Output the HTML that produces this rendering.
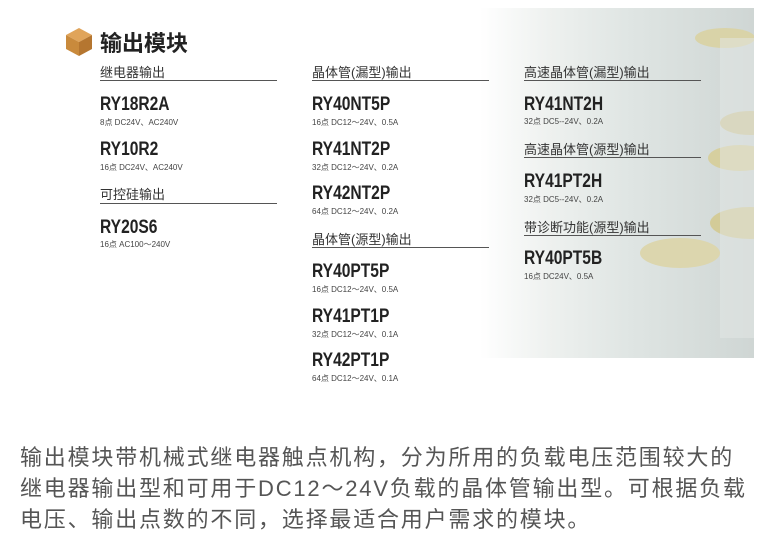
<!DOCTYPE html>
<html><head><meta charset="utf-8"><style>
body{margin:0;width:774px;height:538px;background:#fff;position:relative;overflow:hidden;font-family:"Liberation Sans","Noto Sans CJK SC",sans-serif;}
.a{position:absolute;white-space:nowrap;}
.h{font-size:13px;color:#333;}
.l{position:absolute;height:1px;background:#555;}
.m{font-size:19px;font-weight:bold;color:#222;transform:scaleX(0.82);transform-origin:left;}
.s{font-size:8px;color:#444;}
.p{font-size:22px;color:#555;left:20px;letter-spacing:1.8px;}
</style></head><body>
<div class="a" style="left:480px;top:8px;width:274px;height:350px;background:linear-gradient(90deg,#fff 0%,#eef1ef 25%,#dfe5e3 55%,#cfd6d4 100%);"></div>
<svg class="a" style="left:480px;top:8px" width="274" height="350">
<ellipse cx="245" cy="30" rx="30" ry="10" fill="#d9d3a8"/>
<ellipse cx="270" cy="115" rx="30" ry="12" fill="#cfc79a"/>
<ellipse cx="260" cy="150" rx="32" ry="13" fill="#d6cf9f"/>
<ellipse cx="270" cy="215" rx="40" ry="16" fill="#d3cb98"/>
<ellipse cx="200" cy="245" rx="40" ry="15" fill="#dcd6ae"/>
<rect x="240" y="30" width="34" height="300" fill="#e4e8e6" opacity=".5"/>
</svg>
<svg class="a" style="left:64px;top:26px" width="30" height="32"><polygon points="15,2 28,9 15,16 2,9" fill="#e0a45a"/><polygon points="2,9 15,16 15,30 2,23" fill="#c98a3c"/><polygon points="28,9 15,16 15,30 28,23" fill="#b57630"/></svg>
<div class="a" style="left:100px;top:26px;font-size:22px;font-weight:bold;color:#222;">输出模块</div>

<div class="a h" style="left:100px;top:62px">继电器输出</div><div class="l" style="left:100px;top:80px;width:177px"></div>
<div class="a m" style="left:100px;top:94px">RY18R2A</div><div class="a s" style="left:100px;top:117px">8点 DC24V、AC240V</div>
<div class="a m" style="left:100px;top:139px">RY10R2</div><div class="a s" style="left:100px;top:162px">16点 DC24V、AC240V</div>
<div class="a h" style="left:100px;top:184px">可控硅输出</div><div class="l" style="left:100px;top:203px;width:177px"></div>
<div class="a m" style="left:100px;top:217px">RY20S6</div><div class="a s" style="left:100px;top:239px">16点 AC100～240V</div>

<div class="a h" style="left:312px;top:62px">晶体管(漏型)输出</div><div class="l" style="left:312px;top:80px;width:177px"></div>
<div class="a m" style="left:312px;top:94px">RY40NT5P</div><div class="a s" style="left:312px;top:117px">16点 DC12～24V、0.5A</div>
<div class="a m" style="left:312px;top:139px">RY41NT2P</div><div class="a s" style="left:312px;top:162px">32点 DC12～24V、0.2A</div>
<div class="a m" style="left:312px;top:183px">RY42NT2P</div><div class="a s" style="left:312px;top:206px">64点 DC12～24V、0.2A</div>
<div class="a h" style="left:312px;top:229px">晶体管(源型)输出</div><div class="l" style="left:312px;top:247px;width:177px"></div>
<div class="a m" style="left:312px;top:261px">RY40PT5P</div><div class="a s" style="left:312px;top:284px">16点 DC12～24V、0.5A</div>
<div class="a m" style="left:312px;top:306px">RY41PT1P</div><div class="a s" style="left:312px;top:329px">32点 DC12～24V、0.1A</div>
<div class="a m" style="left:312px;top:350px">RY42PT1P</div><div class="a s" style="left:312px;top:373px">64点 DC12～24V、0.1A</div>

<div class="a h" style="left:524px;top:62px">高速晶体管(漏型)输出</div><div class="l" style="left:524px;top:80px;width:177px"></div>
<div class="a m" style="left:524px;top:94px">RY41NT2H</div><div class="a s" style="left:524px;top:116px">32点 DC5--24V、0.2A</div>
<div class="a h" style="left:524px;top:139px">高速晶体管(源型)输出</div><div class="l" style="left:524px;top:157px;width:177px"></div>
<div class="a m" style="left:524px;top:171px">RY41PT2H</div><div class="a s" style="left:524px;top:194px">32点 DC5--24V、0.2A</div>
<div class="a h" style="left:524px;top:217px">带诊断功能(源型)输出</div><div class="l" style="left:524px;top:235px;width:177px"></div>
<div class="a m" style="left:524px;top:248px">RY40PT5B</div><div class="a s" style="left:524px;top:271px">16点 DC24V、0.5A</div>

<div class="a p" style="top:440px">输出模块带机械式继电器触点机构，分为所用的负载电压范围较大的</div>
<div class="a p" style="top:471px">继电器输出型和可用于DC12～24V负载的晶体管输出型。可根据负载</div>
<div class="a p" style="top:502px">电压、输出点数的不同，选择最适合用户需求的模块。</div>
</body></html>
